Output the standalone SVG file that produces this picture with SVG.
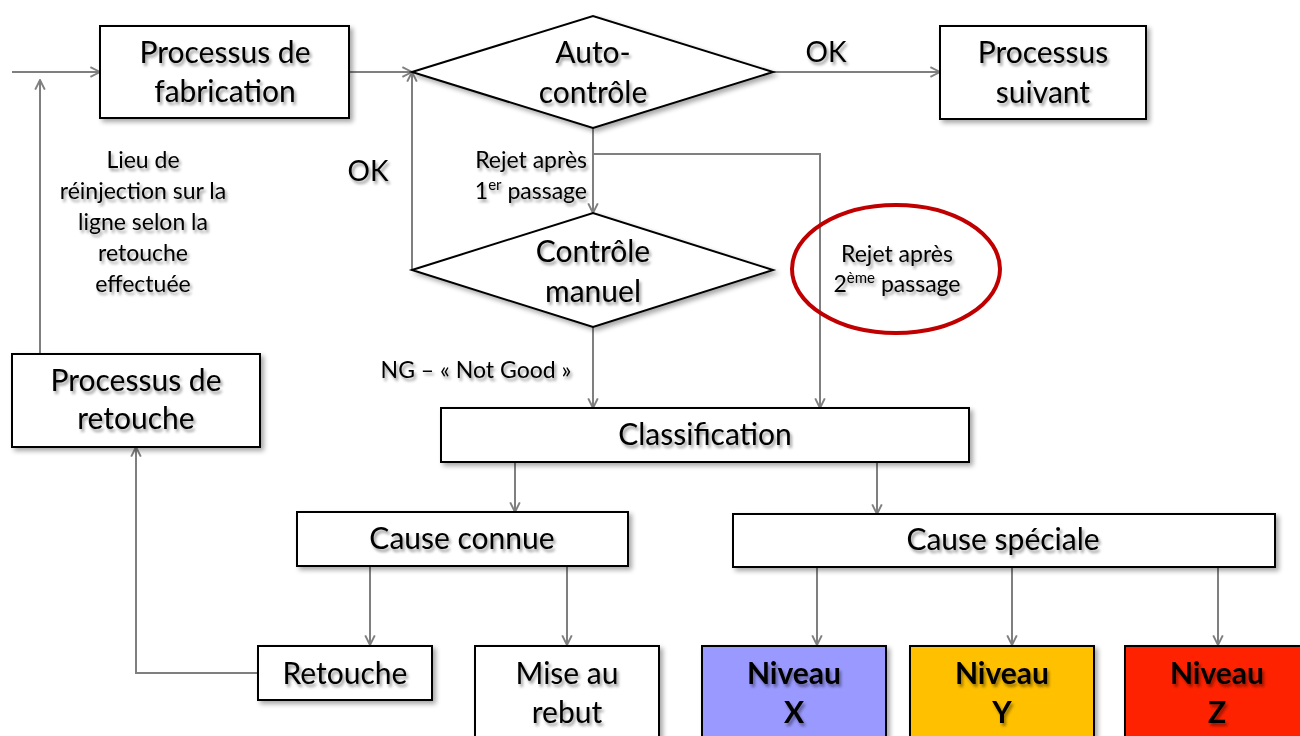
<svg xmlns="http://www.w3.org/2000/svg" width="1300" height="736" viewBox="0 0 1300 736">
  <defs>
    <style>
      .box { fill: #ffffff; stroke: #000000; stroke-width: 2; filter: url(#shadow); }
      .lbl { font-family: "Lato", "Liberation Sans", sans-serif; font-size: 30px; fill: #000000; text-anchor: middle; filter: url(#tshadow); }
      .ok { font-size: 28px; }
      .small { font-family: "Lato", "Liberation Sans", sans-serif; font-size: 23px; fill: #000000; text-anchor: middle; filter: url(#tshadow); }
      .end { text-anchor: end; }
      .bold { font-weight: bold; }
      .conn { fill: none; stroke: #7f7f7f; stroke-width: 2; }
      .arr { marker-end: url(#head); }
    </style>
    <filter id="shadow" x="-10%" y="-10%" width="130%" height="140%">
      <feGaussianBlur in="SourceAlpha" stdDeviation="2.5"/>
      <feOffset dx="3" dy="3" result="b"/>
      <feComponentTransfer><feFuncA type="linear" slope="0.35"/></feComponentTransfer>
      <feMerge><feMergeNode/><feMergeNode in="SourceGraphic"/></feMerge>
    </filter>
    <filter id="tshadow" x="-10%" y="-30%" width="130%" height="170%">
      <feGaussianBlur in="SourceAlpha" stdDeviation="1.8"/>
      <feOffset dx="2" dy="2.5" result="b"/>
      <feComponentTransfer><feFuncA type="linear" slope="0.4"/></feComponentTransfer>
      <feMerge><feMergeNode/><feMergeNode in="SourceGraphic"/></feMerge>
    </filter>
    <marker id="head" viewBox="0 0 10 10" refX="9" refY="5" markerWidth="6" markerHeight="6" orient="auto" markerUnits="strokeWidth">
      <polyline points="1,1 9,5 1,9" fill="none" stroke="#7f7f7f" stroke-width="1.6"/>
    </marker>
  </defs>

  <rect width="1300" height="736" fill="#ffffff"/>

  <!-- connectors -->
  <g id="connectors">
    <line class="conn arr" x1="12" y1="72" x2="100" y2="72"/>
    <line class="conn arr" x1="349" y1="72" x2="412" y2="72"/>
    <line class="conn arr" x1="773" y1="72" x2="940" y2="72"/>
    <line class="conn arr" x1="593" y1="128" x2="593" y2="213"/>
    <polyline class="conn arr" points="593,154 820,154 820,408"/>
    <polyline class="conn arr" points="412,270 412,72"/>
    <line class="conn arr" x1="593" y1="327" x2="593" y2="408"/>
    <line class="conn arr" x1="40" y1="354" x2="40" y2="80"/>
    <polyline class="conn arr" points="258,673 136,673 136,447"/>
    <line class="conn arr" x1="515" y1="462" x2="515" y2="512"/>
    <line class="conn arr" x1="877" y1="462" x2="877" y2="514"/>
    <line class="conn arr" x1="370" y1="566" x2="370" y2="645"/>
    <line class="conn arr" x1="567" y1="566" x2="567" y2="645"/>
    <line class="conn arr" x1="817" y1="567" x2="817" y2="645"/>
    <line class="conn arr" x1="1012" y1="567" x2="1012" y2="645"/>
    <line class="conn arr" x1="1218" y1="567" x2="1218" y2="645"/>
  </g>

  <!-- connector labels -->
  <g id="labels">
    <text class="lbl ok" x="826" y="62">OK</text>
    <text class="lbl ok" x="368" y="181">OK</text>
    <text class="small end" x="587" y="168">Rejet après</text>
    <text class="small end" x="587" y="199">1<tspan font-size="15" dy="-9">er</tspan><tspan dy="9"> passage</tspan></text>
    <text class="small" x="476" y="378">NG – « Not Good »</text>
    <text class="small" x="143" y="168">Lieu de</text>
    <text class="small" x="143" y="199">réinjection sur la</text>
    <text class="small" x="143" y="230">ligne selon la</text>
    <text class="small" x="143" y="261">retouche</text>
    <text class="small" x="143" y="292">effectuée</text>
  </g>

  <!-- highlight on the second rejection -->
  <g id="highlight">
    <ellipse cx="896" cy="269" rx="104" ry="64" fill="none" stroke="#c00000" stroke-width="4"/>
    <text class="small" x="897" y="262">Rejet après</text>
    <text class="small" x="897" y="292">2<tspan font-size="15" dy="-9">ème</tspan><tspan dy="9"> passage</tspan></text>
  </g>

  <g id="fabrication">
    <rect class="box" x="100" y="26" width="249" height="92"/>
    <text class="lbl" x="225" y="63">Processus de</text>
    <text class="lbl" x="225" y="102">fabrication</text>
  </g>

  <g id="autocontrole">
    <polygon class="box" points="412,72 593,16 773,72 593,128"/>
    <text class="lbl" x="593" y="63">Auto-</text>
    <text class="lbl" x="593" y="103">contrôle</text>
  </g>

  <g id="suivant">
    <rect class="box" x="940" y="26" width="206" height="93"/>
    <text class="lbl" x="1043" y="63">Processus</text>
    <text class="lbl" x="1043" y="103">suivant</text>
  </g>

  <g id="controle-manuel">
    <polygon class="box" points="412,270 593,213 773,270 593,327"/>
    <text class="lbl" x="593" y="262">Contrôle</text>
    <text class="lbl" x="593" y="302">manuel</text>
  </g>

  <g id="retouche-process">
    <rect class="box" x="12" y="354" width="248" height="93"/>
    <text class="lbl" x="136" y="391">Processus de</text>
    <text class="lbl" x="136" y="429">retouche</text>
  </g>

  <g id="classification">
    <rect class="box" x="441" y="408" width="528" height="54"/>
    <text class="lbl" x="705" y="445">Classification</text>
  </g>

  <g id="cause-connue">
    <rect class="box" x="297" y="512" width="331" height="54"/>
    <text class="lbl" x="462" y="549">Cause connue</text>
  </g>

  <g id="cause-speciale">
    <rect class="box" x="733" y="514" width="542" height="53"/>
    <text class="lbl" x="1003" y="550">Cause spéciale</text>
  </g>

  <g id="retouche">
    <rect class="box" x="258" y="646" width="174" height="54"/>
    <text class="lbl" x="345" y="684">Retouche</text>
  </g>

  <g id="rebut">
    <rect class="box" x="475" y="646" width="184" height="100"/>
    <text class="lbl" x="567" y="684">Mise au</text>
    <text class="lbl" x="567" y="723">rebut</text>
  </g>

  <g id="niveau-x">
    <rect class="box" x="702" y="646" width="184" height="100" style="fill:#9999ff"/>
    <text class="lbl bold" x="794" y="684">Niveau</text>
    <text class="lbl bold" x="794" y="723">X</text>
  </g>

  <g id="niveau-y">
    <rect class="box" x="910" y="646" width="184" height="100" style="fill:#ffc000"/>
    <text class="lbl bold" x="1002" y="684">Niveau</text>
    <text class="lbl bold" x="1002" y="723">Y</text>
  </g>

  <g id="niveau-z">
    <rect class="box" x="1125" y="646" width="184" height="100" style="fill:#ff2400"/>
    <text class="lbl bold" x="1217" y="684">Niveau</text>
    <text class="lbl bold" x="1217" y="723">Z</text>
  </g>
</svg>
